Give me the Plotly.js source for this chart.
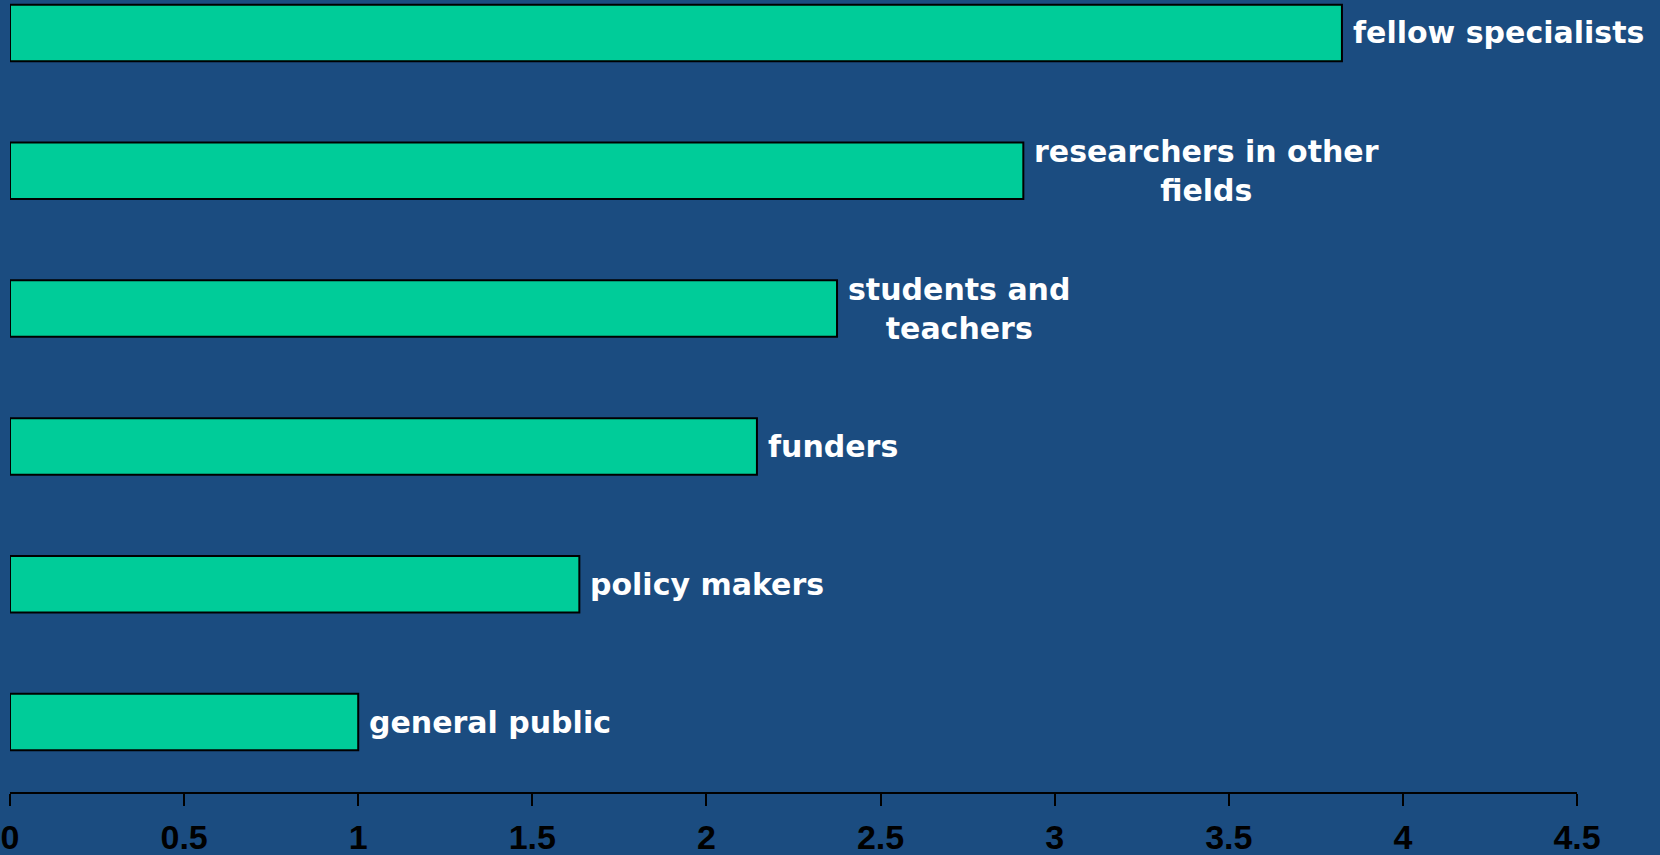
<!DOCTYPE html>
<html>
<head>
<meta charset="utf-8">
<script src="https://cdn.plot.ly/plotly-3.0.1.min.js"></script>
<style>
html,body{margin:0;padding:0;background:#1B4C80;}
#chart{width:1660px;height:855px;}
</style>
</head>
<body>
<div id="chart"></div>
<script>
// Data (bottom to top)
const categories = ["general public", "policy makers", "funders", "students and teachers", "researchers in other fields", "fellow specialists"];
const labelLines = ["general public", "policy makers", "funders", "students and<br>teachers", "researchers in other<br>fields", "fellow specialists"];
const values = [1.0, 1.635, 2.145, 2.375, 2.91, 3.825];
const xTickVals = [0, 0.5, 1, 1.5, 2, 2.5, 3, 3.5, 4, 4.5];
const xTickText = ["0", "0.5", "1", "1.5", "2", "2.5", "3", "3.5", "4", "4.5"];

const bg = "#1B4C80";

const trace = {
  type: "bar",
  orientation: "h",
  x: values,
  y: categories,
  width: 0.41,
  marker: {color: "#00CC99", line: {color: "#000000", width: 2}},
  hoverinfo: "none"
};

const annotations = categories.map((c, i) => ({
  x: values[i],
  y: c,
  xref: "x",
  yref: "y",
  text: labelLines[i],
  showarrow: false,
  xanchor: "left",
  yanchor: "middle",
  align: "center",
  xshift: 9,
  font: {family: "DejaVu Sans, Arial, sans-serif", size: 30, color: "#FFFFFF", weight: "bold"}
}));

const layout = {
  width: 1660,
  height: 855,
  paper_bgcolor: bg,
  plot_bgcolor: bg,
  margin: {l: 10, r: 83, t: 0, b: 63},
  showlegend: false,
  bargap: 0,
  xaxis: {
    range: [0, 4.5],
    tickvals: xTickVals,
    ticktext: xTickText,
    showline: true,
    linecolor: "#000000",
    linewidth: 2,
    ticks: "outside",
    ticklen: 12,
    tickwidth: 2,
    tickcolor: "#000000",
    showgrid: false,
    zeroline: false,
    ticklabelstandoff: 2,
    tickfont: {family: "Liberation Sans Narrow, Arial Narrow, Liberation Sans, Arial, sans-serif", size: 34, color: "#000000", weight: "bold"}
  },
  yaxis: {
    type: "category",
    range: [-0.507, 5.239],
    showticklabels: false,
    showgrid: false,
    zeroline: false,
    showline: false,
    ticks: ""
  },
  annotations: annotations
};

Plotly.newPlot("chart", [trace], layout, {displayModeBar: false, staticPlot: true});
</script>
</body>
</html>
